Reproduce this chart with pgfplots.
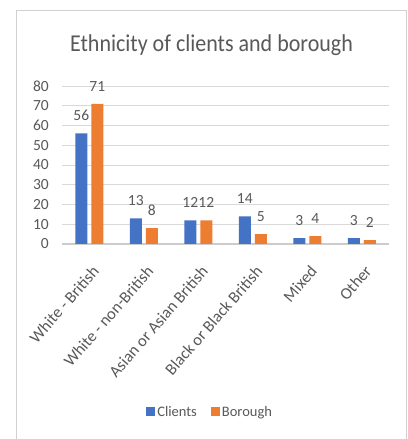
\documentclass[border=0pt]{standalone}
\usepackage{fontspec}
\setmainfont{Carlito}
\usepackage{pgfplots}
\pgfplotsset{compat=1.18}
\definecolor{cblue}{HTML}{4472C4}
\definecolor{corange}{HTML}{ED7D31}
\definecolor{txt}{HTML}{595959}
\definecolor{gridc}{HTML}{D9D9D9}
\definecolor{framec}{HTML}{D0D0D0}
\begin{document}
\begin{tikzpicture}
\useasboundingbox (0,0) rectangle (408bp,439bp);
\fill[white] (0,0) rectangle (408bp,439bp);
\draw[framec, line width=1bp] (16bp,-5bp) -- (16bp,428.5bp) -- (406bp,428.5bp) -- (406bp,-5bp);
\node[txt, font=\fontsize{22bp}{26bp}\selectfont, yscale=1.1] at (211.5bp,394bp) {Ethnicity of clients and borough};
\begin{axis}[
  at={(62bp,195bp)}, anchor=south west,
  scale only axis, width=327bp, height=158bp,
  xmin=-0.5, xmax=5.5, ymin=0, ymax=80,
  ytick={0,10,...,80},
  xtick={0,1,2,3,4,5},
  xticklabels={White - British, White - non-British, Asian or Asian British, Black or Black British, Mixed, Other},
  xmajorgrids=false, ymajorgrids=true, grid style={color=gridc, line width=0.8bp},
  axis x line*=bottom, axis y line*=left,
  y axis line style={draw=none},
  x axis line style={color=gridc!85!gray, line width=1.2bp},
  major tick length=0pt,
  /pgf/number format/assume math mode=true,
  yticklabel style={font=\fontsize{15.5bp}{18bp}\selectfont, text=txt, inner sep=0pt, xshift=-13bp},
  xticklabel style={font=\fontsize{16.5bp}{19bp}\selectfont, text=txt, inner sep=0pt, anchor=north east, yshift=-20bp, xshift=2bp, rotate=49},
  ybar=4bp, bar width=12bp,
  nodes near coords,
  every node near coord/.append style={font=\fontsize{15.5bp}{18bp}\selectfont, text=txt, anchor=south, inner sep=0pt, yshift=12.5bp},
  legend columns=2,
  legend style={at={(0.453,-1.063)}, anchor=center, draw=none, fill=none,
    font=\fontsize{14.5bp}{17bp}\selectfont, text=txt,
    /tikz/every even column/.append style={column sep=12bp}},
  legend image code/.code={\fill[#1] (0bp,-4.5bp) rectangle (9bp,4.5bp);},
]
\addplot[fill=cblue, draw=none] coordinates {(0,56) (1,13) (2,12) (3,14) (4,3) (5,3)};
\addplot[fill=corange, draw=none] coordinates {(0,71) (1,8) (2,12) (3,5) (4,4) (5,2)};
\legend{Clients, Borough}
\end{axis}
\end{tikzpicture}
\end{document}
